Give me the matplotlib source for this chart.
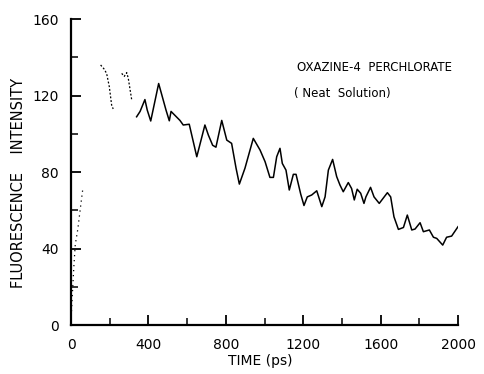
import numpy as np
import matplotlib
matplotlib.use("Agg")
import matplotlib.pyplot as plt
from matplotlib.ticker import MultipleLocator

# fluorescence decay trace, read in pieces (the recorder trace is broken early on)
rise_t = [0, 8, 15, 22, 35, 52, 62]
rise_i = [2, 18, 31, 42, 50, 64, 72]

seg1_t = [153, 170, 184, 198, 210, 218]
seg1_i = [136, 134, 131.6, 124.6, 115, 113]

seg2_t = [262, 275, 288, 296, 314]
seg2_i = [131.6, 130, 132, 129, 117.6]

main_t = [339, 357, 382, 394, 412, 453, 491, 508, 517, 563, 580, 611, 650, 692, 710,
          732, 749, 779, 805, 830, 853, 870, 899, 942, 977, 1003, 1028, 1046, 1063,
          1080, 1092, 1111, 1128, 1149, 1163, 1187, 1204, 1221, 1244, 1270, 1296,
          1313, 1330, 1352, 1373, 1390, 1407, 1433, 1450, 1464, 1479, 1497, 1514,
          1524, 1548, 1566, 1593, 1635, 1652, 1669, 1692, 1718, 1738, 1761, 1778,
          1804, 1821, 1852, 1873, 1890, 1921, 1941, 1967, 2000]
main_i = [108.9, 111.7, 117.9, 112.4, 106.7, 126.3, 112.4, 106.8, 111.7, 107, 104.6,
          105, 88, 104.6, 99.3, 94, 93, 107, 96.7, 95, 82, 73.7, 82, 97.6, 91.5, 85.4,
          77.2, 77.2, 88, 92.4, 84.5, 81, 70.6, 78.8, 78.8, 68.5, 62.5, 67, 68, 70.2,
          61.9, 67, 81, 86.6, 77.6, 73.2, 69.7, 74.5, 71.4, 65.4, 71, 68.9, 63.6, 67,
          72, 67, 63.6, 69.2, 67, 56.6, 50, 51, 57.5, 49.7, 50.2, 53.5, 48.8, 49.7,
          45.9, 45.3, 41.8, 45.9, 46.5, 51.4]

x_ticks = [0, 400, 800, 1200, 1600, 2000]
y_ticks = [0, 40, 80, 120, 160]

fig = plt.figure(figsize=(4.84, 3.74), dpi=100)
ax = fig.add_axes([0.1467, 0.131, 0.7996, 0.818])

ax.plot(rise_t, rise_i, color="black", lw=0.9, ls=(0, (1, 3)))
ax.plot(seg1_t, seg1_i, color="black", lw=0.9, ls=(0, (1.5, 1.5)))
ax.plot(seg2_t, seg2_i, color="black", lw=0.9, ls=(0, (1.5, 1.5)))
ax.plot(main_t, main_i, color="black", lw=1.1)

ax.set_xlim(0, 2000)
ax.set_ylim(0, 160)
ax.set_xticks(x_ticks)
ax.set_yticks(y_ticks)
ax.xaxis.set_minor_locator(MultipleLocator(200))
ax.yaxis.set_minor_locator(MultipleLocator(20))

for s in ["top", "right"]:
    ax.spines[s].set_visible(False)
ax.spines["left"].set_linewidth(1.6)
ax.spines["bottom"].set_linewidth(1.6)

ax.tick_params(which="major", direction="in", length=7, width=1.3, labelsize=10, pad=9)
ax.tick_params(which="minor", direction="in", length=5, width=1.1)

ax.set_xlabel("TIME (ps)", fontsize=10)
ax.xaxis.set_label_coords(0.49, -0.095)
ax.set_ylabel("FLUORESCENCE    INTENSITY", fontsize=10.5)
ax.yaxis.set_label_coords(-0.115, 0.465)

ax.text(0.785, 0.843, "OXAZINE-4  PERCHLORATE", transform=ax.transAxes,
        ha="center", va="center", fontsize=8.5)
ax.text(0.70, 0.758, "( Neat  Solution)", transform=ax.transAxes,
        ha="center", va="center", fontsize=8.5)

fig.savefig("out.png", dpi=100)
